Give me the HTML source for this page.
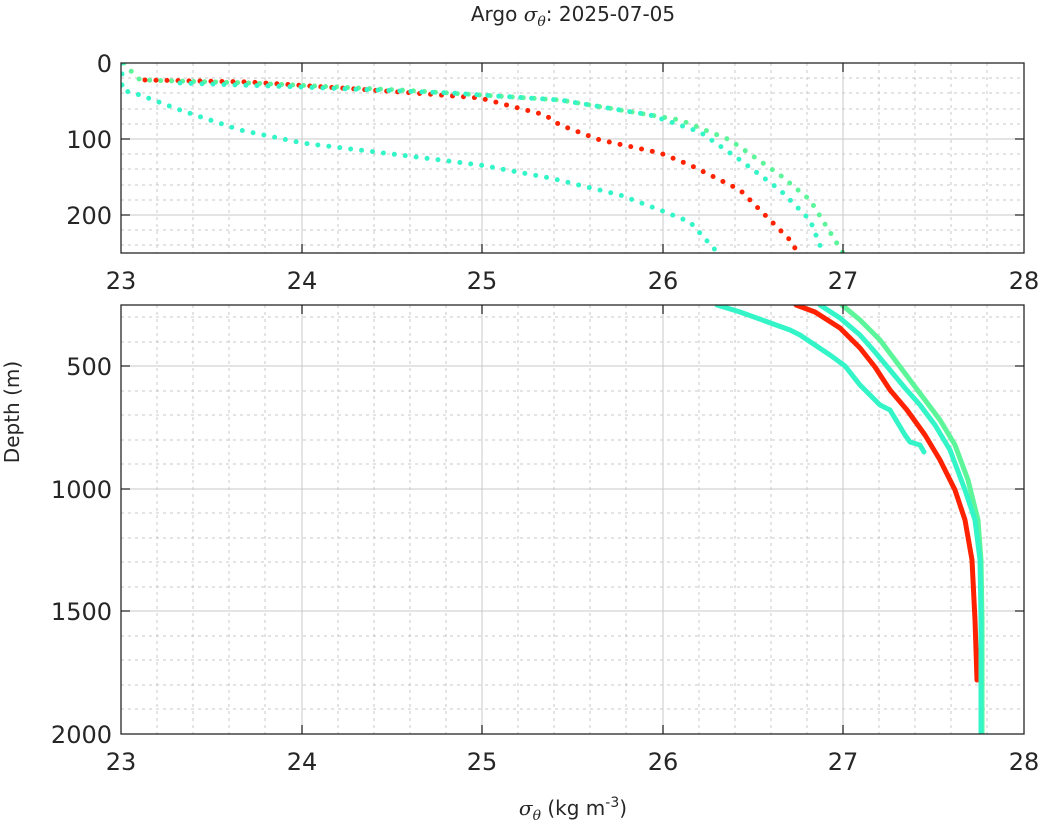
<!DOCTYPE html>
<html><head><style>body{margin:0;background:#fff}svg{display:block}text{font-family:"DejaVu Sans","Liberation Sans",sans-serif;fill:#262626}</style></head><body>
<svg width="1044" height="835" xmlns="http://www.w3.org/2000/svg">
<defs><clipPath id="c1"><rect x="121" y="63" width="903" height="190"/></clipPath><clipPath id="c2"><rect x="121" y="305" width="903" height="429"/></clipPath></defs>
<g id="grid" stroke="#c8c8c8" stroke-width="1">
<g stroke-dasharray="3 4">
<path d="M157 63V253M193 63V253M229 63V253M265 63V253M338 63V253M374 63V253M410 63V253M446 63V253M518 63V253M554 63V253M590 63V253M626 63V253M699 63V253M735 63V253M771 63V253M807 63V253M879 63V253M915 63V253M951 63V253M987 63V253"/>
<path d="M121 78H1024M121 93H1024M121 109H1024M121 124H1024M121 154H1024M121 169H1024M121 185H1024M121 200H1024M121 230H1024M121 245H1024"/>
<path d="M157 305V734M193 305V734M229 305V734M265 305V734M338 305V734M374 305V734M410 305V734M446 305V734M518 305V734M554 305V734M590 305V734M626 305V734M699 305V734M735 305V734M771 305V734M807 305V734M879 305V734M915 305V734M951 305V734M987 305V734"/>
<path d="M121 317H1024M121 342H1024M121 391H1024M121 415H1024M121 440H1024M121 464H1024M121 513H1024M121 538H1024M121 562H1024M121 587H1024M121 636H1024M121 660H1024M121 685H1024M121 709H1024"/>
</g>
<path d="M302 63V253M482 63V253M663 63V253M843 63V253M121 139H1024M121 215H1024"/>
<path d="M302 305V734M482 305V734M663 305V734M843 305V734M121 366H1024M121 489H1024M121 611H1024"/>
</g>
<g clip-path="url(#c1)" fill="none" stroke-width="5" stroke-linecap="round" stroke-dasharray="0 11">
<polyline stroke="#5cf59a" points="124,63 130,70 140,80 250,83 400,90 560,100 680,120 730,140 780,175 810,200 843,253"/>
<polyline stroke="#ff2200" points="145,80 250,82 400,92 480,98 545,115 560,125 600,140 660,153 690,165 740,190 760,210 790,240 798,253"/>
<polyline stroke="#33f5c8" points="180,83 300,87 450,93 560,100 650,115 700,132 740,160 780,190 810,220 823,253"/>
<polyline stroke="#33f5c8" points="122,63 122,90 140,95 180,110 240,130 302,143 400,155 480,165 550,178 620,195 660,210 690,222 718,253"/>
</g>
<g clip-path="url(#c2)" fill="none" stroke-width="5" stroke-linecap="round" stroke-linejoin="round">
<polyline stroke="#5cf59a" points="842,305 860,320 880,340 895,360 910,380 925,400 940,420 955,445 968,480 978,520 981,560 982,620 982,734"/>
<polyline stroke="#ff2200" points="796,305 815,312 840,328 860,348 875,367 890,390 907,410 925,435 940,460 955,490 965,520 972,560 975,620 977,680"/>
<polyline stroke="#33f5c8" points="820,305 840,318 860,335 875,352 890,370 905,388 920,405 935,425 950,450 965,490 975,520 980,560 981,620 981,734"/>
<polyline stroke="#33f5c8" points="717,305 740,312 790,330 800,335 812,343 830,355 845,366 860,385 880,405 890,410 905,435 910,442 920,445 924,452"/>
</g>
<g fill="none" stroke="#262626" stroke-width="1.3">
<rect x="121" y="63" width="903" height="190"/>
<rect x="121" y="305" width="903" height="429"/>
<path d="M302 253v-9M482 253v-9M663 253v-9M843 253v-9M302 63v9M482 63v9M663 63v9M843 63v9M121 139h9M121 215h9M1024 139h-9M1024 215h-9"/>
<path d="M302 734v-9M482 734v-9M663 734v-9M843 734v-9M302 305v9M482 305v9M663 305v9M843 305v9M121 366h9M121 489h9M121 611h9M1024 366h-9M1024 489h-9M1024 611h-9"/>
</g>
<g font-size="24" text-anchor="middle">
<text x="121" y="289">23</text><text x="302" y="289">24</text><text x="482" y="289">25</text><text x="663" y="289">26</text><text x="843" y="289">27</text><text x="1024" y="289">28</text>
<text x="121" y="770">23</text><text x="302" y="770">24</text><text x="482" y="770">25</text><text x="663" y="770">26</text><text x="843" y="770">27</text><text x="1024" y="770">28</text>
</g>
<g font-size="24" text-anchor="end">
<text x="112" y="72">0</text><text x="112" y="148">100</text><text x="112" y="224">200</text>
<text x="112" y="375">500</text><text x="112" y="498">1000</text><text x="112" y="620">1500</text><text x="112" y="743">2000</text>
</g>
<text x="573" y="21" font-size="20" text-anchor="middle">Argo <tspan font-style="italic" font-family="DejaVu Serif,serif">σ</tspan><tspan font-style="italic" font-size="14" dy="5" font-family="DejaVu Serif,serif">θ</tspan><tspan dy="-5">: 2025-07-05</tspan></text>
<text transform="translate(19,412) rotate(-90)" font-size="20" text-anchor="middle">Depth (m)</text>
<text x="573" y="815" font-size="20" text-anchor="middle"><tspan font-style="italic" font-family="DejaVu Serif,serif">σ</tspan><tspan font-style="italic" font-size="14" dy="5" font-family="DejaVu Serif,serif">θ</tspan><tspan dy="-5"> (kg m</tspan><tspan font-size="14" dy="-8">-3</tspan><tspan dy="8">)</tspan></text>
</svg>
</body></html>
